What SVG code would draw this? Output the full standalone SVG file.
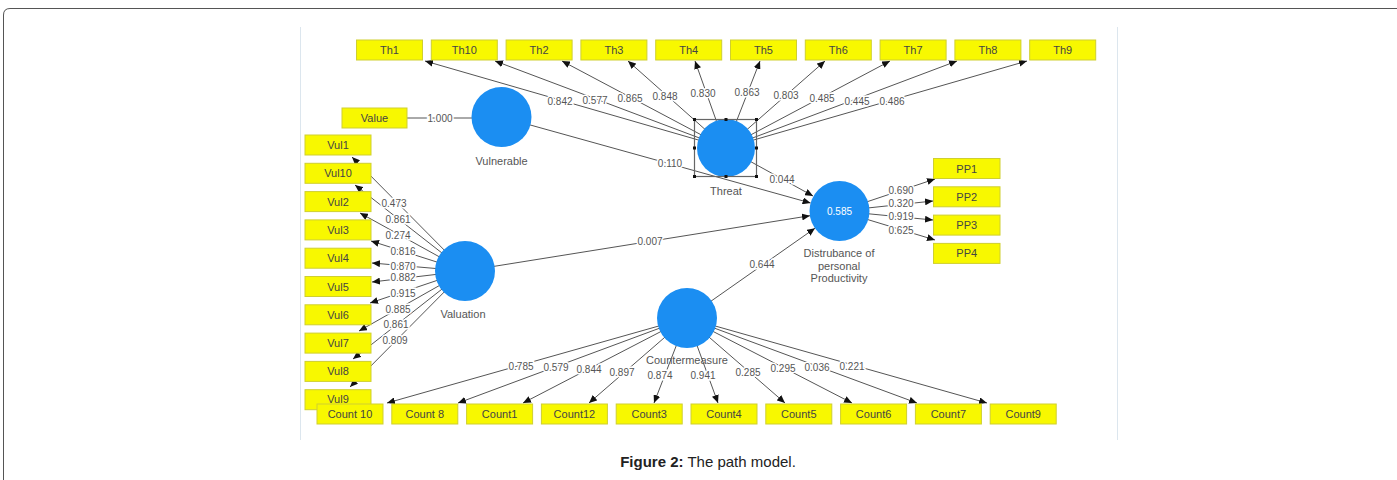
<svg xmlns="http://www.w3.org/2000/svg" width="1397" height="480" viewBox="0 0 1397 480">
<defs>
<marker id="arr" markerUnits="userSpaceOnUse" markerWidth="8" markerHeight="7" refX="8" refY="3.5" orient="auto"><path d="M0,0 L8,3.5 L0,7 z" fill="#111"/></marker>
<style>
.ln{stroke:#555;stroke-width:1;fill:none}
.la{stroke:#555;stroke-width:1;fill:none;marker-end:url(#arr)}
.num{font-family:"Liberation Sans",Arial,sans-serif;font-size:10px;fill:#555;text-anchor:middle;dominant-baseline:central;stroke:#fff;stroke-width:3;paint-order:stroke}
.box{fill:#f8f800;stroke:#cfcf30;stroke-width:1}
.bt{font-family:"Liberation Sans",Arial,sans-serif;font-size:11px;fill:#444;text-anchor:middle;dominant-baseline:central}
.lv{fill:#1b8ef2}
.nl{font-family:"Liberation Sans",Arial,sans-serif;font-size:11px;fill:#555;text-anchor:middle}
.h{fill:#111}
</style>
</defs>
<rect x="0" y="0" width="1397" height="480" fill="#fff"/>
<path d="M3.5,480 L3.5,15 Q3.5,8.5 10,8.5 L1397,8.5" fill="none" stroke="#555" stroke-width="1"/>
<line x1="300.5" y1="27" x2="300.5" y2="440" stroke="#dce6ee"/>
<line x1="1117.5" y1="27" x2="1117.5" y2="440" stroke="#dce6ee"/>
<g id="connectors">
<line class="ln" x1="407" y1="118" x2="472" y2="118"/>
<line class="la" x1="501.5" y1="117" x2="810.6" y2="203"/>
<line class="la" x1="726" y1="148" x2="813" y2="196"/>
<line class="la" x1="465" y1="271" x2="810" y2="215.7"/>
<line class="la" x1="687" y1="318" x2="815" y2="228.2"/>
<line class="la" x1="726" y1="148" x2="425" y2="61"/>
<line class="la" x1="726" y1="148" x2="495" y2="61"/>
<line class="la" x1="726" y1="148" x2="562" y2="61"/>
<line class="la" x1="726" y1="148" x2="628" y2="61"/>
<line class="la" x1="726" y1="148" x2="695" y2="61"/>
<line class="la" x1="726" y1="148" x2="760" y2="61"/>
<line class="la" x1="726" y1="148" x2="825" y2="61"/>
<line class="la" x1="726" y1="148" x2="890" y2="61"/>
<line class="la" x1="726" y1="148" x2="957" y2="61"/>
<line class="la" x1="726" y1="148" x2="1027" y2="61"/>
<line class="la" x1="465" y1="271" x2="352" y2="157"/>
<line class="la" x1="465" y1="271" x2="355" y2="185"/>
<line class="la" x1="465" y1="271" x2="360" y2="213"/>
<line class="la" x1="465" y1="271" x2="371" y2="241"/>
<line class="la" x1="465" y1="271" x2="372" y2="263"/>
<line class="la" x1="465" y1="271" x2="372" y2="282"/>
<line class="la" x1="465" y1="271" x2="370" y2="303"/>
<line class="la" x1="465" y1="271" x2="359" y2="331"/>
<line class="la" x1="465" y1="271" x2="353" y2="359"/>
<line class="la" x1="465" y1="271" x2="350" y2="387"/>
<line class="la" x1="687" y1="318" x2="387" y2="403"/>
<line class="la" x1="687" y1="318" x2="458" y2="403"/>
<line class="la" x1="687" y1="318" x2="523" y2="403"/>
<line class="la" x1="687" y1="318" x2="589" y2="403"/>
<line class="la" x1="687" y1="318" x2="654" y2="403"/>
<line class="la" x1="687" y1="318" x2="718" y2="403"/>
<line class="la" x1="687" y1="318" x2="785" y2="403"/>
<line class="la" x1="687" y1="318" x2="852" y2="403"/>
<line class="la" x1="687" y1="318" x2="917" y2="403"/>
<line class="la" x1="687" y1="318" x2="987" y2="403"/>
<line class="la" x1="839.5" y1="211" x2="935" y2="179"/>
<line class="la" x1="839.5" y1="211" x2="933" y2="201"/>
<line class="la" x1="839.5" y1="211" x2="933" y2="220"/>
<line class="la" x1="839.5" y1="211" x2="935" y2="240"/>
<text class="num" x="440" y="118">1.000</text>
<text class="num" x="670" y="163">0.110</text>
<text class="num" x="782" y="179">0.044</text>
<text class="num" x="650" y="241">0.007</text>
<text class="num" x="762" y="264">0.644</text>
<text class="num" x="560" y="101">0.842</text>
<text class="num" x="595" y="100">0.577</text>
<text class="num" x="630" y="98">0.865</text>
<text class="num" x="665" y="96">0.848</text>
<text class="num" x="703" y="93">0.830</text>
<text class="num" x="747" y="92">0.863</text>
<text class="num" x="786" y="95">0.803</text>
<text class="num" x="822" y="98">0.485</text>
<text class="num" x="857" y="101">0.445</text>
<text class="num" x="892" y="101">0.486</text>
<text class="num" x="394" y="203">0.473</text>
<text class="num" x="398" y="219">0.861</text>
<text class="num" x="398" y="235">0.274</text>
<text class="num" x="403" y="251">0.816</text>
<text class="num" x="403" y="266">0.870</text>
<text class="num" x="403" y="277">0.882</text>
<text class="num" x="403" y="293">0.915</text>
<text class="num" x="398" y="309">0.885</text>
<text class="num" x="396" y="324">0.861</text>
<text class="num" x="395" y="340">0.809</text>
<text class="num" x="521" y="366">0.785</text>
<text class="num" x="556" y="367">0.579</text>
<text class="num" x="589" y="369">0.844</text>
<text class="num" x="622" y="372">0.897</text>
<text class="num" x="660" y="375">0.874</text>
<text class="num" x="703" y="375">0.941</text>
<text class="num" x="748" y="372">0.285</text>
<text class="num" x="783" y="368">0.295</text>
<text class="num" x="817" y="367">0.036</text>
<text class="num" x="852" y="366">0.221</text>
<text class="num" x="901" y="190">0.690</text>
<text class="num" x="901" y="203">0.320</text>
<text class="num" x="901" y="216">0.919</text>
<text class="num" x="901" y="230">0.625</text>
</g>
<g id="Vulnerable"><circle class="lv" cx="501.5" cy="117" r="30"/><text class="nl" x="501.5" y="165">Vulnerable</text></g>
<g id="Threat"><circle class="lv" cx="726" cy="148" r="29"/>
<rect x="694.5" y="119.5" width="62" height="57" fill="none" stroke="#666" stroke-width="1.2"/>
<rect class="h" x="693" y="118" width="3" height="3"/><rect class="h" x="724.5" y="118" width="3" height="3"/><rect class="h" x="755" y="118" width="3" height="3"/>
<rect class="h" x="693" y="146.5" width="3" height="3"/><rect class="h" x="755" y="146.5" width="3" height="3"/>
<rect class="h" x="693" y="175" width="3" height="3"/><rect class="h" x="724.5" y="175" width="3" height="3"/><rect class="h" x="755" y="175" width="3" height="3"/>
<text class="nl" x="726" y="195">Threat</text></g>
<g id="Valuation"><circle class="lv" cx="465" cy="271" r="30"/><text class="nl" x="463" y="318">Valuation</text></g>
<g id="Countermeasure"><circle class="lv" cx="687" cy="318" r="30"/><text class="nl" x="687" y="364">Countermeasure</text></g>
<g id="Disturbance"><circle class="lv" cx="839.5" cy="211" r="30"/><text x="839.5" y="211" style="font-family:'Liberation Sans',Arial,sans-serif;font-size:10px;fill:#fff;text-anchor:middle;dominant-baseline:central">0.585</text>
<text class="nl" x="839" y="257">Distrubance of</text><text class="nl" x="839" y="270">personal</text><text class="nl" x="839" y="282">Productivity</text></g>
<g id="Value"><rect class="box" x="342" y="108" width="65" height="20"/><text class="bt" x="374.5" y="118">Value</text></g>
<g id="Th1"><rect class="box" x="356.5" y="40" width="66" height="20"/><text class="bt" x="389.5" y="50">Th1</text></g>
<g id="Th10"><rect class="box" x="431.3" y="40" width="66" height="20"/><text class="bt" x="464.3" y="50">Th10</text></g>
<g id="Th2"><rect class="box" x="506.1" y="40" width="66" height="20"/><text class="bt" x="539.1" y="50">Th2</text></g>
<g id="Th3"><rect class="box" x="580.9" y="40" width="66" height="20"/><text class="bt" x="613.9" y="50">Th3</text></g>
<g id="Th4"><rect class="box" x="655.7" y="40" width="66" height="20"/><text class="bt" x="688.7" y="50">Th4</text></g>
<g id="Th5"><rect class="box" x="730.5" y="40" width="66" height="20"/><text class="bt" x="763.5" y="50">Th5</text></g>
<g id="Th6"><rect class="box" x="805.3" y="40" width="66" height="20"/><text class="bt" x="838.3" y="50">Th6</text></g>
<g id="Th7"><rect class="box" x="880.1" y="40" width="66" height="20"/><text class="bt" x="913.1" y="50">Th7</text></g>
<g id="Th8"><rect class="box" x="954.9" y="40" width="66" height="20"/><text class="bt" x="987.9" y="50">Th8</text></g>
<g id="Th9"><rect class="box" x="1029.7" y="40" width="66" height="20"/><text class="bt" x="1062.7" y="50">Th9</text></g>
<g id="Vul1"><rect class="box" x="305" y="135" width="66" height="20"/><text class="bt" x="338" y="145">Vul1</text></g>
<g id="Vul10"><rect class="box" x="305" y="163.3" width="66" height="20"/><text class="bt" x="338" y="173.3">Vul10</text></g>
<g id="Vul2"><rect class="box" x="305" y="191.6" width="66" height="20"/><text class="bt" x="338" y="201.6">Vul2</text></g>
<g id="Vul3"><rect class="box" x="305" y="219.9" width="66" height="20"/><text class="bt" x="338" y="229.9">Vul3</text></g>
<g id="Vul4"><rect class="box" x="305" y="248.2" width="66" height="20"/><text class="bt" x="338" y="258.2">Vul4</text></g>
<g id="Vul5"><rect class="box" x="305" y="276.5" width="66" height="20"/><text class="bt" x="338" y="286.5">Vul5</text></g>
<g id="Vul6"><rect class="box" x="305" y="304.8" width="66" height="20"/><text class="bt" x="338" y="314.8">Vul6</text></g>
<g id="Vul7"><rect class="box" x="305" y="333.1" width="66" height="20"/><text class="bt" x="338" y="343.1">Vul7</text></g>
<g id="Vul8"><rect class="box" x="305" y="361.4" width="66" height="20"/><text class="bt" x="338" y="371.4">Vul8</text></g>
<g id="Vul9"><rect class="box" x="305" y="389.7" width="66" height="20"/><text class="bt" x="338" y="398.5">Vul9</text></g>
<g id="PP1"><rect class="box" x="933.5" y="158.5" width="66.5" height="20"/><text class="bt" x="966.7" y="168.5">PP1</text></g>
<g id="PP2"><rect class="box" x="933.5" y="186.8" width="66.5" height="20"/><text class="bt" x="966.7" y="196.8">PP2</text></g>
<g id="PP3"><rect class="box" x="933.5" y="215.1" width="66.5" height="20"/><text class="bt" x="966.7" y="225.1">PP3</text></g>
<g id="PP4"><rect class="box" x="933.5" y="243.4" width="66.5" height="20"/><text class="bt" x="966.7" y="253.4">PP4</text></g>
<g id="Count10"><rect class="box" x="317" y="404" width="66" height="20"/><text class="bt" x="350" y="414">Count 10</text></g>
<g id="Count8"><rect class="box" x="391.8" y="404" width="66" height="20"/><text class="bt" x="424.8" y="414">Count 8</text></g>
<g id="Count1"><rect class="box" x="466.6" y="404" width="66" height="20"/><text class="bt" x="499.6" y="414">Count1</text></g>
<g id="Count12"><rect class="box" x="541.4" y="404" width="66" height="20"/><text class="bt" x="574.4" y="414">Count12</text></g>
<g id="Count3"><rect class="box" x="616.2" y="404" width="66" height="20"/><text class="bt" x="649.2" y="414">Count3</text></g>
<g id="Count4"><rect class="box" x="691" y="404" width="66" height="20"/><text class="bt" x="724" y="414">Count4</text></g>
<g id="Count5"><rect class="box" x="765.8" y="404" width="66" height="20"/><text class="bt" x="798.8" y="414">Count5</text></g>
<g id="Count6"><rect class="box" x="840.6" y="404" width="66" height="20"/><text class="bt" x="873.6" y="414">Count6</text></g>
<g id="Count7"><rect class="box" x="915.4" y="404" width="66" height="20"/><text class="bt" x="948.4" y="414">Count7</text></g>
<g id="Count9"><rect class="box" x="990.2" y="404" width="66" height="20"/><text class="bt" x="1023.2" y="414">Count9</text></g>
<text x="708" y="467" style="font-family:'Liberation Sans',Arial,sans-serif;font-size:15px;fill:#222;text-anchor:middle"><tspan font-weight="bold">Figure 2:</tspan> The path model.</text>
</svg>
